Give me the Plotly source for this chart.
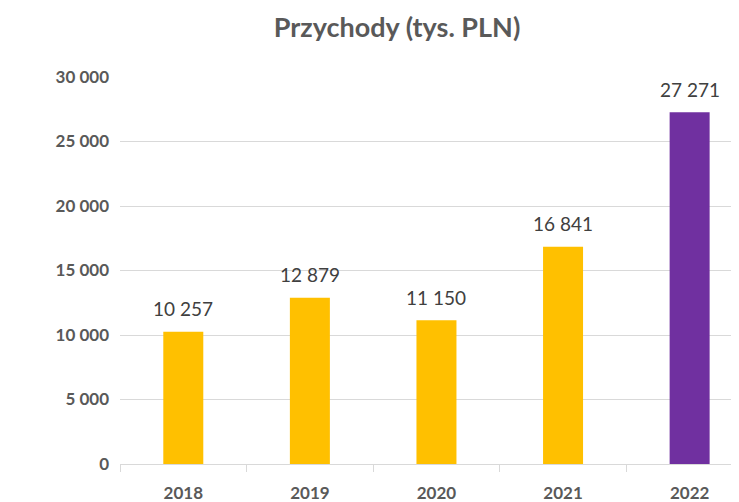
import plotly.graph_objects as go

years = ["2018", "2019", "2020", "2021", "2022"]
revenue = [10257, 12879, 11150, 16841, 27271]
bar_colors = ["#FFC000", "#FFC000", "#FFC000", "#FFC000", "#7030A0"]
y_ticks = [0, 5000, 10000, 15000, 20000, 25000, 30000]

FONT = "Lato, Calibri, Carlito, sans-serif"

# the page body adds an 8px offset; size the figure so it fills the window
W, H = 731, 494

fig = go.Figure()
fig.add_trace(go.Bar(
    x=years, y=revenue,
    marker=dict(color=bar_colors, line=dict(width=0)),
    hoverinfo="x+y",
))

for i, v in enumerate(revenue):
    fig.add_annotation(
        x=i, y=v, xref="x", yref="y",
        text=f"{v:,}".replace(",", " "),
        showarrow=False, yshift=23,
        font=dict(family=FONT, size=19, color="#404040"),
    )

fig.update_layout(
    width=W, height=H,
    margin=dict(l=112, r=0, t=69, b=38),
    paper_bgcolor="white", plot_bgcolor="white",
    separators=", ",
    bargap=0.684,
    showlegend=False,
    title=dict(
        text="<b>Przychody (tys. PLN)</b>",
        x=389 / W, xref="container", xanchor="center",
        y=1 - 20 / H, yref="container", yanchor="middle",
        font=dict(family=FONT, size=27, color="#595959"),
    ),
    xaxis=dict(
        type="category",
        range=[-0.5, 4.39],
        showgrid=False,
        showline=True, linecolor="#D9D9D9", linewidth=1,
        ticks="outside", tickson="boundaries", ticklen=7,
        tickcolor="#D9D9D9", tickwidth=1,
        ticklabelstandoff=14,
        tickfont=dict(family=FONT, size=17, color="#595959", weight="bold"),
    ),
    yaxis=dict(
        range=[0, 30000],
        tickvals=y_ticks,
        tickformat=",d",
        showgrid=True, gridcolor="#D9D9D9", gridwidth=1,
        zeroline=False,
        showline=False,
        ticks="", ticklabelstandoff=10,
        tickfont=dict(family=FONT, size=17, color="#595959", weight="bold"),
    ),
)

fig.write_html("out.html")
